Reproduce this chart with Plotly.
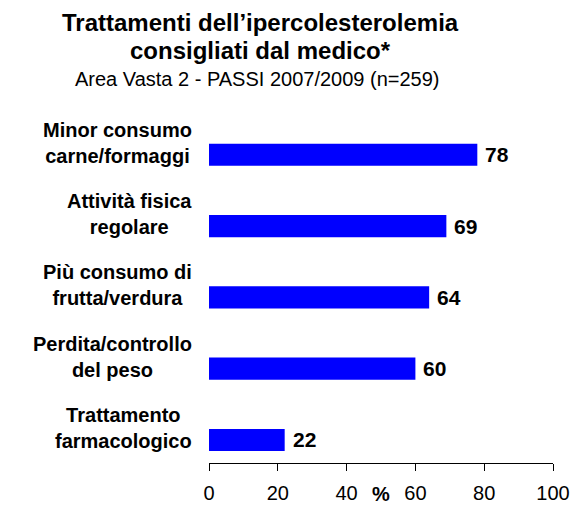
import plotly.graph_objects as go

# Categories (top to bottom) and their percentages
categories = [
    "Minor consumo<br>carne/formaggi",
    "Attività fisica<br>regolare",
    "Più consumo di<br>frutta/verdura",
    "Perdita/controllo<br>del peso",
    "Trattamento<br>farmacologico",
]
values = [78, 69, 64, 60, 22]
x_ticks = [0, 20, 40, 60, 80, 100]

FONT = "Liberation Sans, Arial, sans-serif"

fig = go.Figure(
    go.Bar(
        x=values,
        y=categories,
        orientation="h",
        marker=dict(color="#0000FF", line=dict(width=0)),
        width=0.31,
        hoverinfo="skip",
    )
)

annotations = []
# Value labels beside each bar
for cat, v in zip(categories, values):
    annotations.append(dict(
        x=v, y=cat, xref="x", yref="y", text=f"<b>{v}</b>",
        showarrow=False, xanchor="left", yanchor="middle", xshift=6,
        font=dict(family=FONT, size=21, color="black"),
    ))
    # Category labels: block right of the plot edge, lines centred
    annotations.append(dict(
        x=0, y=cat, xref="paper", yref="y", text=f"<b>{cat}</b>",
        showarrow=False, xanchor="right", yanchor="middle", align="center",
        xshift=-15, yshift=12,
        font=dict(family=FONT, size=20, color="black"),
    ))

# Axis unit label between the 40 and 60 ticks
annotations.append(dict(
    x=50, y=-0.088, xref="x", yref="paper", text="<b>%</b>",
    showarrow=False, xanchor="center", yanchor="middle",
    font=dict(family=FONT, size=20, color="black"),
))

# Title and subtitle
title_x = (260 - 209) / 344
annotations += [
    dict(x=title_x, y=(463 - 22) / 351, xref="paper", yref="paper",
         text="<b>Trattamenti dell’ipercolesterolemia</b>", showarrow=False,
         xanchor="center", yanchor="middle",
         font=dict(family=FONT, size=24, color="black")),
    dict(x=title_x, y=(463 - 50) / 351, xref="paper", yref="paper",
         text="<b>consigliati dal medico*</b>", showarrow=False,
         xanchor="center", yanchor="middle",
         font=dict(family=FONT, size=24, color="black")),
    dict(x=(257 - 209) / 344, y=(463 - 79) / 351, xref="paper", yref="paper",
         text="Area Vasta 2 - PASSI 2007/2009 (n=259)", showarrow=False,
         xanchor="center", yanchor="middle",
         font=dict(family=FONT, size=20, color="black")),
]

fig.update_layout(
    width=571, height=505,
    margin=dict(l=209, r=18, t=112, b=42, autoexpand=False),
    paper_bgcolor="white", plot_bgcolor="white",
    showlegend=False,
    annotations=annotations,
    xaxis=dict(
        range=[0, 100], tickvals=x_ticks, ticks="outside", ticklen=7,
        tickcolor="black", tickwidth=1, showline=True, linecolor="black",
        linewidth=1, showgrid=False, zeroline=False, automargin=False,
        tickfont=dict(family=FONT, size=20, color="black"),
        ticklabelstandoff=5,
    ),
    yaxis=dict(
        categoryorder="array", categoryarray=categories,
        range=[4.323, -0.6], showticklabels=False, showline=False,
        showgrid=False, zeroline=False, ticks="", automargin=False,
    ),
)

fig.write_html("out.html")
